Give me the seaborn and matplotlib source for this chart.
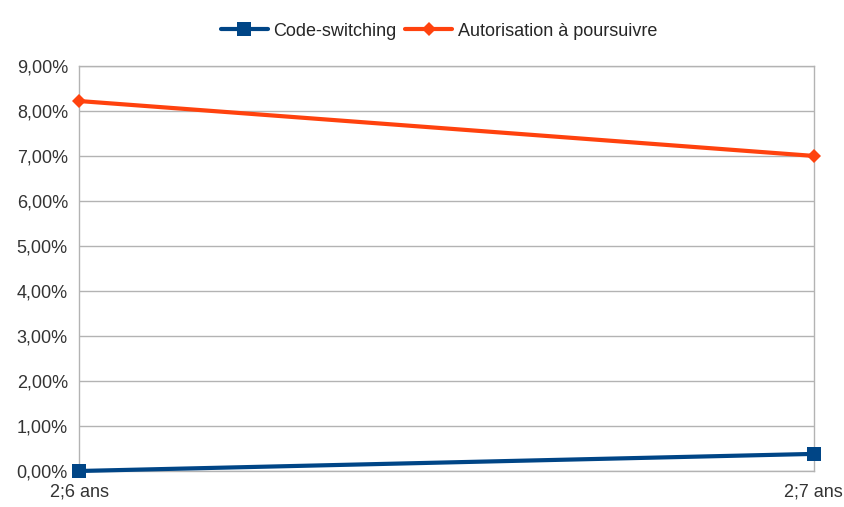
import pandas as pd
import seaborn as sns
import matplotlib.pyplot as plt
from matplotlib.ticker import FuncFormatter

ages = ['2;6 ans', '2;7 ans']
code_switching = [0.0, 0.38]
autorisation = [8.22, 7.0]

sns.set_style('white')
plt.rcParams['font.family'] = ['Liberation Sans', 'DejaVu Sans']
plt.rcParams['font.size'] = 13

df = pd.DataFrame({
    'age': ages * 2,
    'value': code_switching + autorisation,
    'serie': ['Code-switching'] * 2 + ['Autorisation à poursuivre'] * 2,
})

fig = plt.figure(figsize=(8.45, 5.07), dpi=100)
ax = fig.add_axes([0.0935, 0.071, 0.8695, 0.799])

palette = {'Code-switching': '#004586', 'Autorisation à poursuivre': '#ff420e'}
sns.lineplot(data=df, x='age', y='value', hue='serie', style='serie',
             markers={'Code-switching': 's', 'Autorisation à poursuivre': 'D'},
             dashes=False, palette=palette, linewidth=3,
             markeredgewidth=0, ax=ax, zorder=3, clip_on=False)
# marker sizes differ between the two series
for line, ms in zip(ax.lines, [10, 7]):
    line.set_markersize(ms)

ax.set_xlim(0, 1)
ax.set_ylim(0, 9)
ax.set_yticks(range(0, 10))
ax.yaxis.set_major_formatter(FuncFormatter(lambda v, p: f'{v:.2f}%'.replace('.', ',')))
ax.yaxis.grid(True, color='#b3b3b3', linewidth=1)
for s in ax.spines.values():
    s.set_color('#b3b3b3')
    s.set_linewidth(1)
ax.tick_params(axis='both', colors='#b3b3b3', labelcolor='#333333', length=6, width=1,
               labelsize=13)
ax.tick_params(axis='x', length=8, pad=1)
ax.tick_params(axis='y', pad=2)
ax.set_xlabel(None)
ax.set_ylabel(None)

leg = ax.legend(title=None, loc='lower center', bbox_to_anchor=(0.49, 1.025), ncol=2,
                frameon=False, handlelength=2.6, columnspacing=0.5, handletextpad=0.3,
                fontsize=13)
for h, ms in zip(leg.legend_handles, [10, 7]):
    h.set_markersize(ms)

plt.savefig('out.png', dpi=100)
